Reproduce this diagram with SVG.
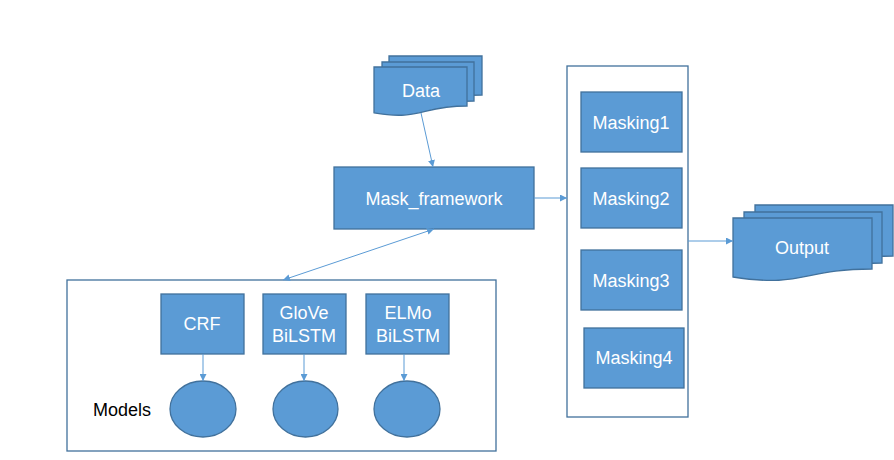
<svg xmlns="http://www.w3.org/2000/svg" width="894" height="460" viewBox="0 0 894 460">
<defs>
<style>
.box{fill:#5B9BD5;stroke:#41719C;stroke-width:1.3}
.frame{fill:#ffffff;stroke:#41719C;stroke-width:1.3}
.lbl{font-family:"Liberation Sans",Arial,sans-serif;font-size:18px;fill:#ffffff;text-anchor:middle}
.blk{font-family:"Liberation Sans",Arial,sans-serif;font-size:18px;fill:#000000}
.con{stroke:#5B9BD5;stroke-width:1;fill:none}
</style>
<marker id="ah" viewBox="0 0 10 10" refX="10" refY="5" markerWidth="7" markerHeight="7" orient="auto-start-reverse" markerUnits="userSpaceOnUse">
<path d="M0,0 L10,5 L0,10 Z" fill="#5B9BD5"/>
</marker>
</defs>
<rect width="894" height="460" fill="#ffffff"/>

<g id="models-frame">
<rect class="frame" x="67" y="280" width="429" height="171"/>
<text class="blk" x="93" y="416">Models</text>
</g>
<g id="masking-frame">
<rect class="frame" x="567" y="66" width="121" height="351"/>
</g>

<g id="data">
<path class="box" d="M389,56 H482 V95 C435.5,95 435.5,110 389,101.8 Z"/>
<path class="box" d="M382,62 H474 V101 C428,101 428,116 382,107.8 Z"/>
<path class="box" d="M374,67 H467 V106 C420.5,106 420.5,121 374,112.8 Z"/>
<text class="lbl" x="421" y="97">Data</text>
</g>

<g id="mask-framework">
<rect class="box" x="334" y="167" width="200" height="62"/>
<text class="lbl" x="434" y="205">Mask_framework</text>
</g>

<g id="masking1"><rect class="box" x="581" y="92" width="101" height="60"/><text class="lbl" x="631" y="129">Masking1</text></g>
<g id="masking2"><rect class="box" x="581" y="168" width="101" height="60"/><text class="lbl" x="631" y="205">Masking2</text></g>
<g id="masking3"><rect class="box" x="581" y="250" width="101" height="60"/><text class="lbl" x="631" y="287">Masking3</text></g>
<g id="masking4"><rect class="box" x="584" y="328" width="100" height="60"/><text class="lbl" x="634" y="364">Masking4</text></g>

<g id="output">
<path class="box" d="M755,205 H893 V256 C824,256 824,275 755,264 Z"/>
<path class="box" d="M744,212 H882 V263 C813,263 813,282 744,271 Z"/>
<path class="box" d="M733,218 H872 V269 C802.5,269 802.5,288 733,277 Z"/>
<text class="lbl" x="802" y="254">Output</text>
</g>

<g id="crf"><rect class="box" x="161" y="294" width="83" height="60"/><text class="lbl" x="202" y="330">CRF</text></g>
<g id="glove"><rect class="box" x="263" y="294" width="83" height="60"/><text class="lbl" x="304" y="319">GloVe</text><text class="lbl" x="304" y="342">BiLSTM</text></g>
<g id="elmo"><rect class="box" x="366" y="294" width="83" height="60"/><text class="lbl" x="408" y="319">ELMo</text><text class="lbl" x="408" y="342">BiLSTM</text></g>

<g id="model-crf"><ellipse class="box" cx="203" cy="409" rx="33" ry="28"/></g>
<g id="model-glove"><ellipse class="box" cx="305.5" cy="409" rx="32.5" ry="28"/></g>
<g id="model-elmo"><ellipse class="box" cx="407" cy="409" rx="33" ry="28"/></g>

<g id="connectors">
<line class="con" x1="421" y1="113" x2="433" y2="167" marker-end="url(#ah)"/>
<line class="con" x1="534" y1="198" x2="567" y2="198" marker-end="url(#ah)"/>
<line class="con" x1="688" y1="241" x2="733" y2="241" marker-end="url(#ah)"/>
<line class="con" x1="283" y1="280" x2="434" y2="229" marker-start="url(#ah)" marker-end="url(#ah)"/>
<line class="con" x1="203" y1="354" x2="203" y2="381" marker-end="url(#ah)"/>
<line class="con" x1="304" y1="354" x2="304" y2="381" marker-end="url(#ah)"/>
<line class="con" x1="404" y1="354" x2="404" y2="381" marker-end="url(#ah)"/>
</g>
</svg>
